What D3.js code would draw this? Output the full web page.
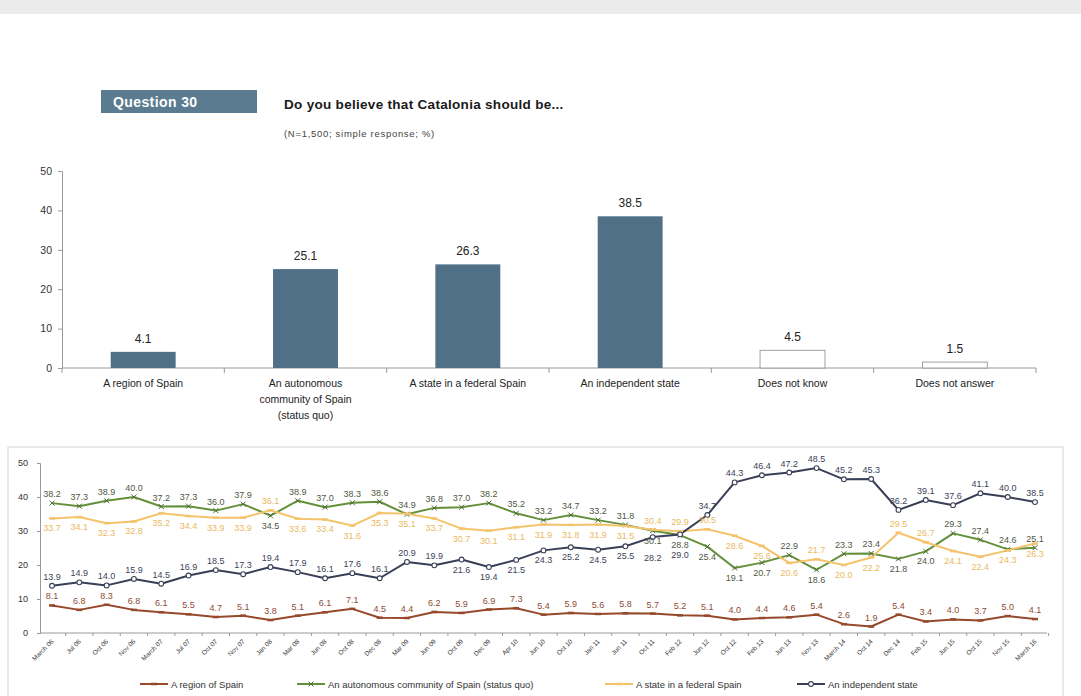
<!DOCTYPE html>
<html>
<head>
<meta charset="utf-8">
<script src="https://cdn.jsdelivr.net/npm/d3@7"></script>
<style>
  html, body { margin: 0; padding: 0; background: #ffffff; }
  svg { display: block; font-family: Arial, "Liberation Sans", sans-serif; }
</style>
</head>
<body>
<svg id="chart" width="1081" height="696"></svg>
<script>
// ---- Question 30: current answer shares (%) ----
const categories = [
  "A region of Spain",
  "An autonomous community of Spain (status quo)",
  "A state in a federal Spain",
  "An independent state",
  "Does not know",
  "Does not answer"
];
const categoryLines = [
  ["A region of Spain"],
  ["An autonomous", "community of Spain", "(status quo)"],
  ["A state in a federal Spain"],
  ["An independent state"],
  ["Does not know"],
  ["Does not answer"]
];
const shares = [4.1, 25.1, 26.3, 38.5, 4.5, 1.5];
const nonResponses = ["Does not know", "Does not answer"];
const barTicks = [0, 10, 20, 30, 40, 50];

// ---- Evolution by survey wave (%) ----
const waves = [
  "March 06", "Jul 06", "Oct 06", "Nov 06", "March 07", "Jul 07", "Oct 07", "Nov 07",
  "Jan 08", "Mar 08", "Jun 08", "Oct 08", "Dec 08", "Mar 09", "Jun 09", "Oct 09",
  "Dec 09", "Apr 10", "Jun 10", "Oct 10", "Jan 11", "Jun 11", "Oct 11", "Feb 12",
  "Jun 12", "Oct 12", "Feb 13", "Jun 13", "Nov 13", "March 14", "Oct 14", "Dec 14",
  "Feb 15", "Jun 15", "Oct 15", "Nov 15", "March 16"
];
const regionOfSpain = [8.1, 6.8, 8.3, 6.8, 6.1, 5.5, 4.7, 5.1, 3.8, 5.1, 6.1, 7.1, 4.5, 4.4, 6.2, 5.9, 6.9, 7.3, 5.4, 5.9, 5.6, 5.8, 5.7, 5.2, 5.1, 4.0, 4.4, 4.6, 5.4, 2.6, 1.9, 5.4, 3.4, 4.0, 3.7, 5.0, 4.1];
const autonomousCommunity = [38.2, 37.3, 38.9, 40.0, 37.2, 37.3, 36.0, 37.9, 34.5, 38.9, 37.0, 38.3, 38.6, 34.9, 36.8, 37.0, 38.2, 35.2, 33.2, 34.7, 33.2, 31.8, 30.1, 28.8, 25.4, 19.1, 20.7, 22.9, 18.6, 23.3, 23.4, 21.8, 24.0, 29.3, 27.4, 24.6, 25.1];
const federalState = [33.7, 34.1, 32.3, 32.8, 35.2, 34.4, 33.9, 33.9, 36.1, 33.6, 33.4, 31.6, 35.3, 35.1, 33.7, 30.7, 30.1, 31.1, 31.9, 31.8, 31.9, 31.5, 30.4, 29.9, 30.5, 28.6, 25.6, 20.6, 21.7, 20.0, 22.2, 29.5, 26.7, 24.1, 22.4, 24.3, 26.3];
const independentState = [13.9, 14.9, 14.0, 15.9, 14.5, 16.9, 18.5, 17.3, 19.4, 17.9, 16.1, 17.6, 16.1, 20.9, 19.9, 21.6, 19.4, 21.5, 24.3, 25.2, 24.5, 25.5, 28.2, 29.0, 34.7, 44.3, 46.4, 47.2, 48.5, 45.2, 45.3, 36.2, 39.1, 37.6, 41.1, 40.0, 38.5];
const lineTicks = [0, 10, 20, 30, 40, 50];

const svg = d3.select("#chart");
const fmt = d3.format(".1f");

// page strip
svg.append("rect").attr("x", 0).attr("y", 0).attr("width", 1081).attr("height", 14).attr("fill", "#ebebeb");

// ---- header ----
svg.append("rect").attr("x", 101).attr("y", 90).attr("width", 156).attr("height", 23).attr("fill", "#5a7b90");
svg.append("text").attr("x", 113).attr("y", 107).attr("fill", "#ffffff")
  .attr("font-size", 14).attr("font-weight", "bold").attr("letter-spacing", 0.4).text("Question 30");
svg.append("text").attr("x", 284).attr("y", 109).attr("fill", "#1a1a1a")
  .attr("font-size", 13.5).attr("font-weight", "bold").attr("letter-spacing", 0.3)
  .text("Do you believe that Catalonia should be...");
svg.append("text").attr("x", 284).attr("y", 137).attr("fill", "#444")
  .attr("font-size", 9.5).attr("letter-spacing", 0.7).text("(N=1,500; simple response; %)");

// ---- bar chart ----
const xBar = d3.scaleBand().domain(categories).range([62, 1036]).paddingInner(0.6).paddingOuter(0.3);
const yBar = d3.scaleLinear().domain([0, 50]).range([368, 171]);

const barAxis = svg.append("g").attr("transform", "translate(62,0)")
  .call(d3.axisLeft(yBar).tickValues(barTicks).tickSize(4).tickPadding(6));
barAxis.select(".domain").attr("stroke", "#9a9a9a");
barAxis.selectAll(".tick line").attr("stroke", "#9a9a9a");
barAxis.selectAll("text").attr("font-size", 10.5).attr("fill", "#333").attr("font-family", "Arial, 'Liberation Sans', sans-serif");

svg.append("line").attr("x1", 62).attr("x2", 1036).attr("y1", yBar(0)).attr("y2", yBar(0)).attr("stroke", "#9a9a9a");
const gap = (xBar.step() - xBar.bandwidth()) / 2;
const bounds = categories.map(c => xBar(c) - gap).concat([xBar(categories[categories.length - 1]) + xBar.bandwidth() + gap]);
svg.selectAll(".bnd").data(bounds).enter().append("line")
  .attr("x1", d => d).attr("x2", d => d).attr("y1", yBar(0)).attr("y2", yBar(0) + 5).attr("stroke", "#9a9a9a");

svg.selectAll(".bar").data(categories).enter().append("rect")
  .attr("x", c => xBar(c))
  .attr("width", xBar.bandwidth())
  .attr("y", (c, i) => yBar(shares[i]))
  .attr("height", (c, i) => yBar(0) - yBar(shares[i]))
  .attr("fill", c => nonResponses.includes(c) ? "#ffffff" : "#4f7087")
  .attr("stroke", c => nonResponses.includes(c) ? "#8a8a8a" : "none")
  .attr("stroke-width", 0.8);

svg.selectAll(".bval").data(categories).enter().append("text")
  .attr("x", c => xBar(c) + xBar.bandwidth() / 2)
  .attr("y", (c, i) => yBar(shares[i]) - 9)
  .attr("text-anchor", "middle").attr("font-size", 12).attr("fill", "#222")
  .text((c, i) => fmt(shares[i]));

categories.forEach((c, i) => {
  const t = svg.append("text").attr("text-anchor", "middle").attr("font-size", 10.5).attr("fill", "#222");
  categoryLines[i].forEach((ln, k) => {
    t.append("tspan").attr("x", xBar(c) + xBar.bandwidth() / 2).attr("y", 387 + k * 16).text(ln);
  });
});

// ---- line chart ----
svg.append("rect").attr("x", 8).attr("y", 447).attr("width", 1055).attr("height", 270)
  .attr("fill", "none").attr("stroke", "#d4d4d4");

const xLine = d3.scalePoint().domain(waves).range([52, 1035]);
const yLine = d3.scaleLinear().domain([0, 50]).range([633, 463]);

const lineAxis = svg.append("g").attr("transform", "translate(40,0)")
  .call(d3.axisLeft(yLine).tickValues(lineTicks).tickSize(3).tickPadding(9));
lineAxis.select(".domain").attr("stroke", "#9a9a9a");
lineAxis.selectAll(".tick line").attr("stroke", "#9a9a9a");
lineAxis.selectAll("text").attr("font-size", 9).attr("fill", "#333").attr("font-family", "Arial, 'Liberation Sans', sans-serif");

svg.append("line").attr("x1", 40).attr("x2", 1047).attr("y1", yLine(0)).attr("y2", yLine(0)).attr("stroke", "#9a9a9a");
const halfStep = xLine.step() / 2;
svg.selectAll(".wtick").data(waves).enter().append("line")
  .attr("x1", w => xLine(w) + halfStep).attr("x2", w => xLine(w) + halfStep)
  .attr("y1", yLine(0)).attr("y2", yLine(0) + 3).attr("stroke", "#9a9a9a");

svg.selectAll(".wlab").data(waves).enter().append("text")
  .attr("transform", w => `translate(${xLine(w) + 2},${yLine(0) + 9}) rotate(-45)`)
  .attr("text-anchor", "end").attr("font-size", 6.5).attr("fill", "#333")
  .text(w => w);

// label placement per series: "a" above (default for most), "b" below, "bb" further below
const series = [
  { name: "A region of Spain", values: regionOfSpain, color: "#96492b", labelColor: "#8e4a34", marker: "dash", base: "a", place: {} },
  { name: "An autonomous community of Spain (status quo)", values: autonomousCommunity, color: "#64903a", labelColor: "#50583f", marker: "cross", base: "a",
    place: { 8: "b", 22: "b", 23: "b", 24: "b", 25: "b", 26: "b", 28: "b", 31: "b", 32: "b" } },
  { name: "A state in a federal Spain", values: federalState, color: "#f4c46c", labelColor: "#eab95e", marker: "dash", base: "b",
    place: { 8: "a", 22: "a", 23: "a", 24: "a", 28: "a", 31: "a", 32: "a" } },
  { name: "An independent state", values: independentState, color: "#3a3f57", labelColor: "#3c4258", marker: "circle", base: "a",
    place: { 15: "b", 16: "b", 17: "b", 18: "b", 19: "b", 20: "b", 21: "b", 22: "bb", 23: "bb" } }
];
const labelShift = { a: -6, b: 13, bb: 24 };

const line = d3.line().x((v, i) => xLine(waves[i])).y(v => yLine(v));

series.forEach(s => {
  svg.append("path").datum(s.values).attr("d", line)
    .attr("fill", "none").attr("stroke", s.color).attr("stroke-width", 2).attr("stroke-linejoin", "round");
});

function drawMarker(g, type, x, y, color) {
  if (type === "circle") {
    g.append("circle").attr("cx", x).attr("cy", y).attr("r", 2.4).attr("fill", "#ffffff").attr("stroke", color).attr("stroke-width", 1.1);
  } else if (type === "cross") {
    g.append("path").attr("d", `M${x - 2.5},${y - 2.5}L${x + 2.5},${y + 2.5}M${x - 2.5},${y + 2.5}L${x + 2.5},${y - 2.5}`)
      .attr("stroke", "#4f6a35").attr("stroke-width", 1);
  } else {
    g.append("line").attr("x1", x - 3).attr("x2", x + 3).attr("y1", y).attr("y2", y).attr("stroke", color).attr("stroke-width", 2.5);
  }
}

series.forEach(s => {
  const g = svg.append("g");
  s.values.forEach((v, i) => drawMarker(g, s.marker, xLine(waves[i]), yLine(v), s.color));
});

series.forEach(s => {
  s.values.forEach((v, i) => {
    const where = s.place[i] || s.base;
    svg.append("text")
      .attr("x", xLine(waves[i]))
      .attr("y", yLine(v) + labelShift[where])
      .attr("text-anchor", "middle").attr("font-size", 9)
      .attr("fill", s.labelColor)
      .text(fmt(v));
  });
});

// legend
const legendX = [140, 297, 605, 797];
series.forEach((s, i) => {
  const g = svg.append("g").attr("transform", `translate(${legendX[i]},684)`);
  g.append("line").attr("x1", 0).attr("x2", 28).attr("y1", 0).attr("y2", 0).attr("stroke", s.color).attr("stroke-width", 2);
  drawMarker(g, s.marker, 14, 0, s.color);
  g.append("text").attr("x", 31).attr("y", 3.5).attr("font-size", 9.5).attr("fill", "#333").text(s.name);
});
</script>
</body>
</html>
